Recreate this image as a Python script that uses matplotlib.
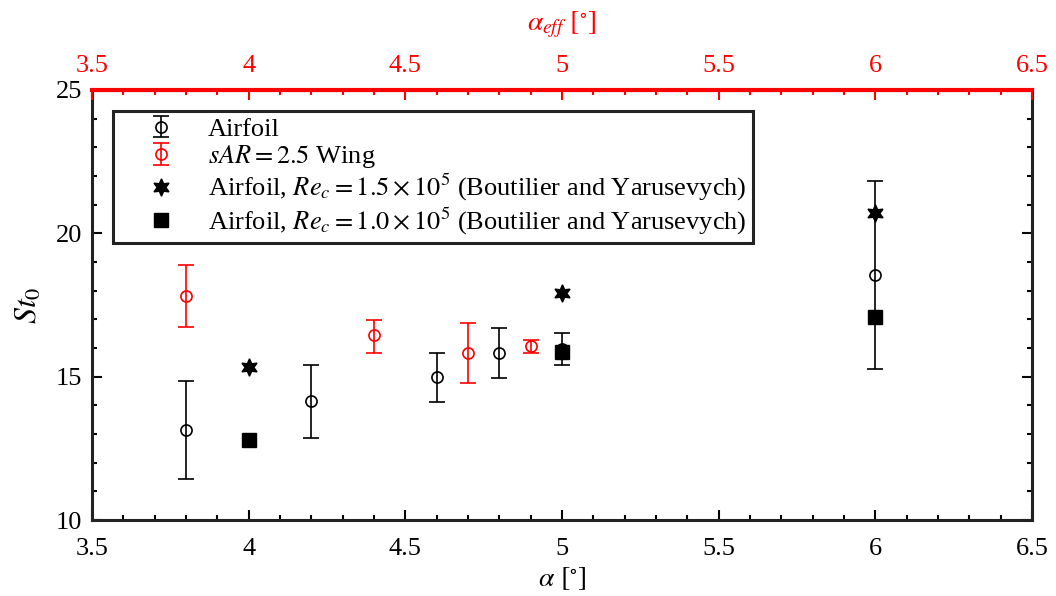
import matplotlib
matplotlib.use("Agg")
import matplotlib.pyplot as plt
import numpy as np
from matplotlib.legend_handler import HandlerErrorbar

plt.rcParams['font.family'] = ['Liberation Serif', 'DejaVu Serif']
plt.rcParams['mathtext.fontset'] = 'stix'

# Airfoil (this study)
af_alpha = [3.8, 4.2, 4.6, 4.8, 5.0, 6.0]
af_st = [13.14, 14.15, 14.98, 15.81, 15.96, 18.53]
af_hi = [14.85, 15.40, 15.84, 16.69, 16.53, 21.83]
af_lo = [11.43, 12.87, 14.10, 14.94, 15.40, 15.26]

# sAR = 2.5 wing, plotted against effective angle
wing_alpha = [3.8, 4.4, 4.7, 4.9]
wing_st = [17.81, 16.44, 15.84, 16.07]
wing_hi = [18.89, 16.99, 16.86, 16.27]
wing_lo = [16.74, 15.84, 14.79, 15.84]

# Boutilier and Yarusevych reference data
by_alpha = [4.0, 5.0, 6.0]
by_st_15 = [15.35, 17.91, 20.70]
by_st_10 = [12.79, 15.85, 17.09]

xticks = [3.5, 4, 4.5, 5, 5.5, 6, 6.5]
xticklabels = ['3.5', '4', '4.5', '5', '5.5', '6', '6.5']
yticks = [10, 15, 20, 25]

fig = plt.figure(figsize=(10.56, 5.96), dpi=100)
ax = fig.add_axes([0.0871, 0.1275, 0.8902, 0.7215])

af_err = [np.array(af_st) - np.array(af_lo), np.array(af_hi) - np.array(af_st)]
wing_err = [np.array(wing_st) - np.array(wing_lo), np.array(wing_hi) - np.array(wing_st)]

h1 = ax.errorbar(af_alpha, af_st, yerr=af_err, fmt='o', color='k', mfc='none',
                 ms=8, mew=1.2, capsize=6, elinewidth=1.2, capthick=1.2)
h2 = ax.errorbar(wing_alpha, wing_st, yerr=wing_err, fmt='o', color='r', mfc='none',
                 ms=8, mew=1.2, capsize=6, elinewidth=1.2, capthick=1.2)
h3, = ax.plot(by_alpha, by_st_15, linestyle='none', marker=(6, 1, 0), color='k', ms=12.5)
h4, = ax.plot(by_alpha, by_st_10, linestyle='none', marker='s', color='k', ms=9.5)

ax.set_xlim(3.5, 6.5)
ax.set_ylim(10, 25)
ax.set_xticks(xticks)
ax.set_xticklabels(xticklabels)
ax.set_yticks(yticks)
ax.set_xticks(np.arange(3.5, 6.51, 0.1), minor=True)
ax.set_yticks(np.arange(10, 25.1, 1), minor=True)
ax.tick_params(which='both', direction='in', top=False, right=True,
               labelsize=19, width=1.5)
ax.tick_params(which='major', length=7)
ax.tick_params(which='minor', length=3.6)
ax.tick_params(axis='x', pad=13)
ax.tick_params(axis='y', pad=7)
for s in ax.spines.values():
    s.set_linewidth(2.2)
    s.set_color('#222222')
ax.set_xlabel(r'$\alpha$ $[^{\circ}]$', fontsize=20, labelpad=4)
ax.set_ylabel(r'$St_0$', fontsize=23, labelpad=9)

labels = ['Airfoil', r'$sAR = 2.5$ Wing',
          r'Airfoil, $Re_c = 1.5 \times 10^5$ (Boutilier and Yarusevych)',
          r'Airfoil, $Re_c = 1.0 \times 10^5$ (Boutilier and Yarusevych)']
leg = ax.legend([h1, h2, h3, h4], labels, loc='upper left', fontsize=19,
                frameon=True, fancybox=False, edgecolor='#222222',
                borderaxespad=0.8, borderpad=0.25, handletextpad=0.25,
                labelspacing=0.08, handlelength=3.1, framealpha=1,
                handler_map={type(h1): HandlerErrorbar(yerr_size=0.4)})
leg.get_frame().set_linewidth(2.2)

# top axis for effective angle
ax2 = ax.twiny()
ax2.set_xlim(3.5, 6.5)
ax2.set_xticks(xticks)
ax2.set_xticklabels(xticklabels)
ax2.set_xticks(np.arange(3.5, 6.51, 0.1), minor=True)
ax2.tick_params(which='both', direction='in', colors='r', labelsize=19, width=1.5, pad=9)
ax2.tick_params(which='major', length=7)
ax2.tick_params(which='minor', length=3.6)
ax2.spines['top'].set_color('r')
ax2.spines['top'].set_linewidth(3)
for k in ['bottom', 'left', 'right']:
    ax2.spines[k].set_visible(False)
ax2.set_xlabel(r'$\alpha_{eff}$ $[^{\circ}]$', fontsize=20, color='r', labelpad=18)

fig.savefig('out.png', dpi=100)
